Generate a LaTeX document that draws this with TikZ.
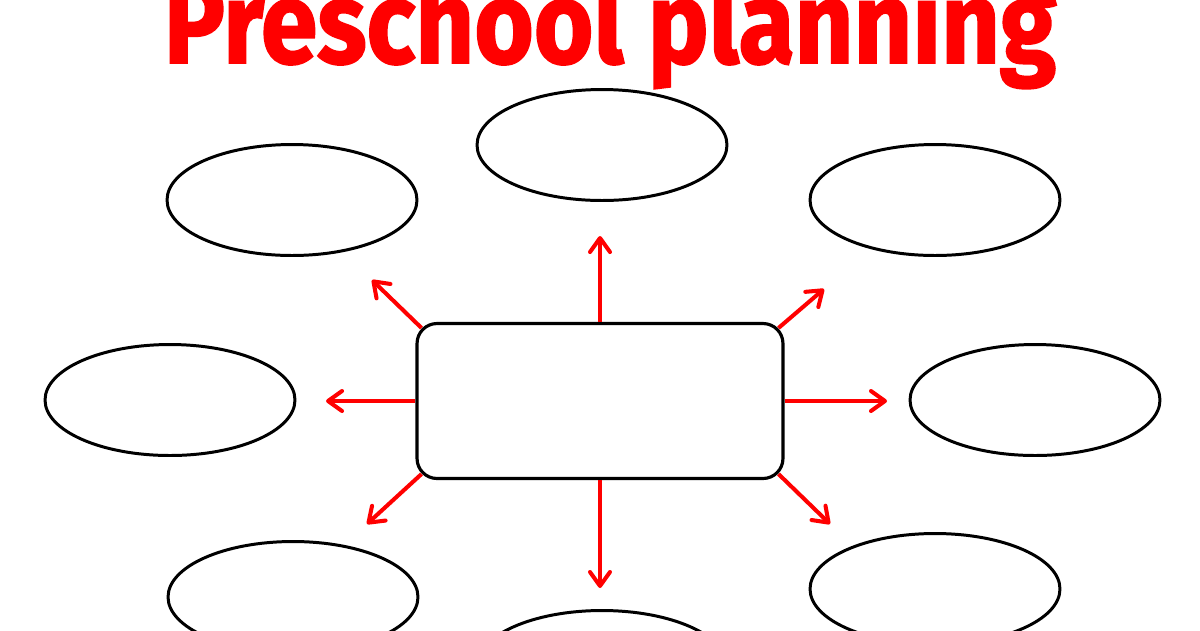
\documentclass[tikz,border=0pt]{standalone}
\usepackage{fontspec}
\newfontfamily\titlefont{Fira Sans}[BoldFeatures={FakeBold=1.6}]
\usetikzlibrary{shapes.geometric,arrows.meta,calc}

\tikzset{
  bubble/.style={ellipse, draw, line width=1.7pt, minimum width=5cm, minimum height=2.22cm, inner sep=0pt},
  hub/.style={rectangle, draw, rounded corners=0.4cm, line width=1.8pt, minimum width=7.32cm, minimum height=3.1cm, inner sep=0pt},
  spoke/.style={draw=red, line width=2.3pt, -{Straight Barb[round,length=0.28cm,width=0.4cm]}}
}

\begin{document}
\begin{tikzpicture}[x={(0.02cm,0cm)}, y={(0cm,-0.02cm)}]
    \useasboundingbox (0,0) rectangle (1200,630);

    % title
    \node [font=\titlefont\bfseries\fontsize{66pt}{72pt}\selectfont, text=red, anchor=base, inner sep=0pt, xscale=0.88] (title) at (610,63) {Preschool planning};

    % centre box
    \node [hub] (plan) at (600,401) {};

    % ideas round the box
    \node [bubble] (ideaN)  at (602,145) {};
    \node [bubble] (ideaNW) at (292,200) {};
    \node [bubble] (ideaNE) at (935,200) {};
    \node [bubble] (ideaW)  at (170,400) {};
    \node [bubble] (ideaE)  at (1035,400) {};
    \node [bubble] (ideaSW) at (293,597) {};
    \node [bubble] (ideaSE) at (935,589) {};
    \node [bubble] (ideaS)  at (602,666) {};

    % arrow tips
    \coordinate (tipN)  at (600,236);
    \coordinate (tipS)  at (600,588);
    \coordinate (tipW)  at (326,401);
    \coordinate (tipE)  at (887,401);
    \coordinate (tipNW) at (372,280);
    \coordinate (tipNE) at (824,289);
    \coordinate (tipSW) at (367,524);
    \coordinate (tipSE) at (830,524);

    \draw [spoke] (plan.north) -- (tipN);
    \draw [spoke] (plan.south) -- (tipS);
    \draw [spoke] (plan.west) -- (tipW);
    \draw [spoke] (plan.east) -- (tipE);
    \draw [spoke] ($(plan.north west)+(6,6)$) -- (tipNW);
    \draw [spoke] ($(plan.north east)+(-6,6)$) -- (tipNE);
    \draw [spoke] ($(plan.south west)+(6,-6)$) -- (tipSW);
    \draw [spoke] ($(plan.south east)+(-6,-6)$) -- (tipSE);

\end{tikzpicture}
\end{document}
